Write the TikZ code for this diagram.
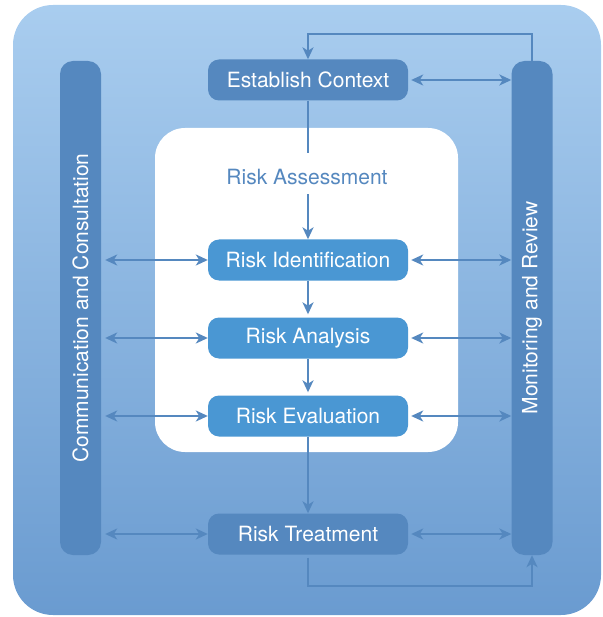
\documentclass[tikz,border=0pt]{standalone}
\usepackage{fontspec}
\setmainfont{TeX Gyre Heros}
\usetikzlibrary{arrows.meta}
\definecolor{bgtop}{HTML}{A9CDEF}
\definecolor{bgbot}{HTML}{6A9BD0}
\definecolor{bardark}{HTML}{5588BF}
\definecolor{boxlight}{HTML}{4A97D3}
\tikzset{
  stage/.style={rounded corners=11pt, fill=bardark, text=white, minimum width=200pt,
    minimum height=41pt, inner sep=0pt, font=\fontsize{21}{25}\selectfont},
  substage/.style={stage, fill=boxlight},
  sidebar/.style={rounded corners=13pt, fill=bardark, minimum width=41pt,
    minimum height=494pt, inner sep=0pt},
  sidetext/.style={rotate=90, text=white, font=\fontsize{21}{25}\selectfont},
  tip/.tip={Stealth[length=12pt,width=11pt,inset=3.5pt]},
  flow/.style={draw=bardark, line width=2.3pt, -tip},
  both/.style={flow, tip-tip},
}
\begin{document}
\begin{tikzpicture}[x=1pt,y=-1pt]
\useasboundingbox (0,0) rectangle (602,617);
% background panels
\shade[top color=bgtop, middle color=bgtop!94!bgbot, bottom color=bgbot, rounded corners=40pt]
  (13,5) rectangle (601,615);
\fill[white, rounded corners=30pt] (155,128) rectangle (458,452);

% side bars
\node[sidebar] (comm) at (80.5,308) {};
\node[sidetext] (commtext) at (comm) {Communication and Consultation};
\node[sidebar] (monitor) at (532,308) {};
\node[sidetext] (monitortext) at (monitor) {Monitoring and Review};

% process steps
\node[stage] (ctx) at (308,80) {Establish Context};
\node[text=bardark, font=\fontsize{21}{25}\selectfont] (assess) at (307,177) {Risk Assessment};
\node[substage] (ident) at (308,260) {Risk Identification};
\node[substage] (analysis) at (308,338) {Risk Analysis};
\node[substage] (evaluate) at (308,416) {Risk Evaluation};
\node[stage] (treat) at (308,534) {Risk Treatment};
\coordinate (ctxtail) at (308,153);

% flow
\draw[draw=bardark, line width=2.3pt] (ctx.south) -- (ctxtail);
\draw[flow, shorten <=6pt] (assess.south -| ident.north) -- (ident.north);
\draw[flow, shorten >=3pt] (ident) -- (analysis);
\draw[flow, shorten >=3pt] (analysis) -- (evaluate);
\draw[flow] (evaluate) -- (treat);

% links to the side bars
\draw[both] ([xshift=3pt]ctx.east) -- (monitor.west |- ctx.east);
\foreach \n in {ident,analysis,evaluate,treat}{
  \draw[both] ([xshift=4pt]comm.east |- \n.west) -- (\n.west);
  \draw[both] ([xshift=3pt]\n.east) -- (monitor.west |- \n.east);
}

% feedback loops
\draw[flow] (monitor.north) -- ++(0,-27) -| (ctx.north);
\draw[flow, shorten <=3pt] (treat.south) -- ++(0,31) -| (monitor.south);
\end{tikzpicture}
\end{document}
